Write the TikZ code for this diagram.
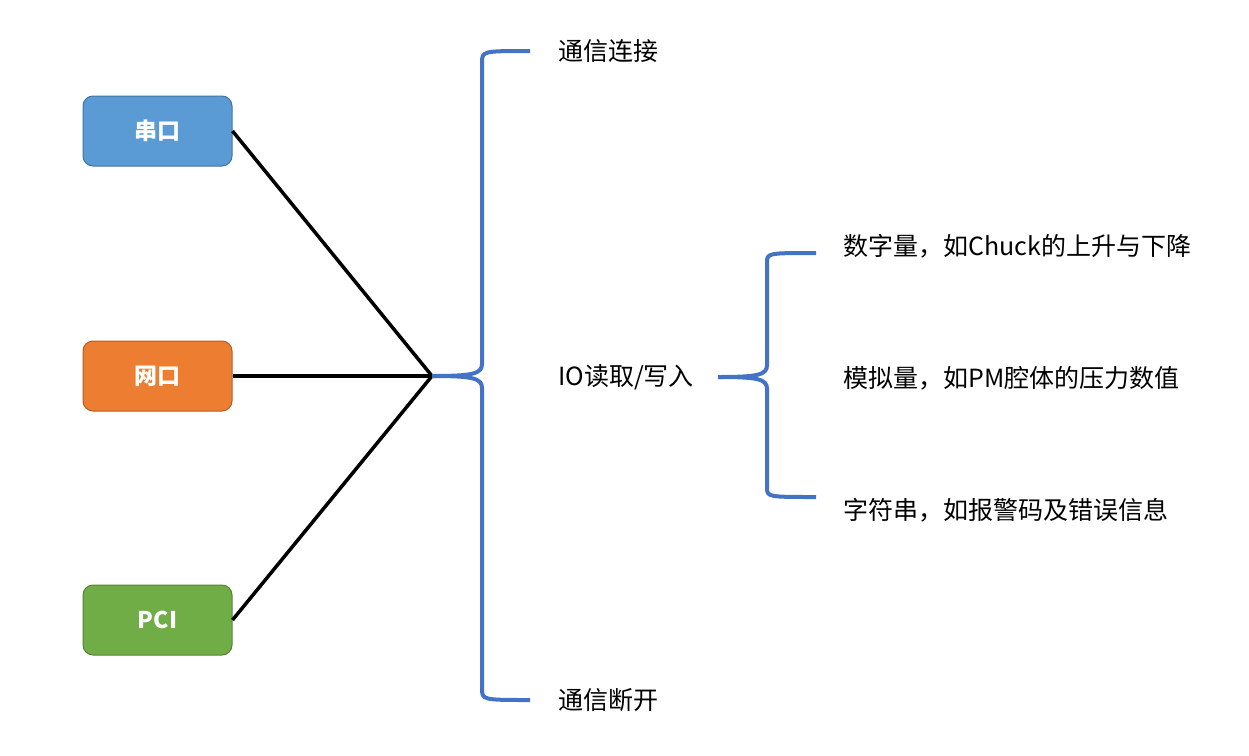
\documentclass[tikz,border=0pt]{standalone}
\usepackage{fontspec}
\setmainfont{Noto Sans CJK SC}
\usetikzlibrary{positioning}
\definecolor{boxblue}{HTML}{5B9BD5}
\definecolor{boxorange}{HTML}{ED7D31}
\definecolor{boxgreen}{HTML}{70AD47}
\definecolor{bracecol}{HTML}{4472C4}
\tikzset{
  port/.style ={draw, line width=1pt, rounded corners=10pt, minimum width=149pt,
    minimum height=70pt, text=white, font=\fontsize{23}{27}\selectfont\bfseries},
  item/.style ={anchor=west, inner sep=0pt, font=\fontsize{25}{30}\selectfont},
  link/.style ={draw, line width=3.5pt},
  brace/.style ={draw=bracecol, line width=4pt}
}

\begin{document}
\begin{tikzpicture}[x=1pt, y=-1pt]
 \useasboundingbox (0,0) rectangle (1249,755);
 % ports
 \node[port, fill=boxblue, draw=boxblue!75!black] (serial) at (157.5,131) {串口};
 \node[port, fill=boxorange, draw=boxorange!75!black] (net) at (157.5,376) {网口};
 \node[port, fill=boxgreen, draw=boxgreen!75!black] (pci) at (157.5,620) {PCI};

 % brace tips and ends
 \coordinate (ltip) at (432,376);
 \coordinate (ltop) at (530,51);
 \coordinate (lbot) at (530,700);
 \coordinate (rtip) at (718,377);
 \coordinate (rtop) at (816,253);
 \coordinate (rbot) at (816,497);

 % texts
 \node[item] (connect) at (558,51) {通信连接};
 \node[item] (io) at (558,377) {IO读取/写入};
 \node[item] (close) at (558,700) {通信断开};
 \node[item] (digital) at (843,246) {数字量，如Chuck的上升与下降};
 \node[item] (analog) at (843,378) {模拟量，如PM腔体的压力数值};
 \node[item] (string) at (843,510) {字符串，如报警码及错误信息};

 \begin{scope}[every path/.style=link]
   \path (serial.east) -- (ltip);
   \path (net.east) -- (ltip);
   \path (pci.east) -- (ltip);
 \end{scope}

 \begin{scope}[every path/.style=brace]
   \path (ltop) .. controls ++(-48,0) and ++(0,-12) .. ++(-48,12) -- ++(0,301)
     .. controls ++(0,10) and ++(40,0) .. (ltip);
   \path (lbot) .. controls ++(-48,0) and ++(0,12) .. ++(-48,-12) -- ++(0,-300)
     .. controls ++(0,-10) and ++(40,0) .. (ltip);
   \path (rtop) .. controls ++(-49,0) and ++(0,-10) .. ++(-49,10) -- ++(0,102)
     .. controls ++(0,10) and ++(40,0) .. (rtip);
   \path (rbot) .. controls ++(-49,0) and ++(0,10) .. ++(-49,-10) -- ++(0,-98)
     .. controls ++(0,-10) and ++(40,0) .. (rtip);
 \end{scope}
\end{tikzpicture}
\end{document}
